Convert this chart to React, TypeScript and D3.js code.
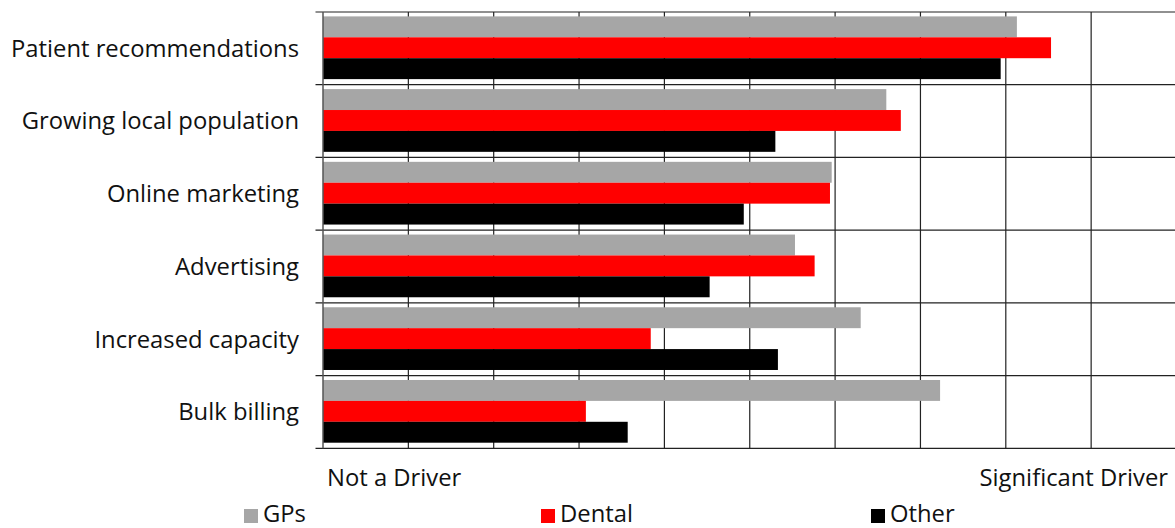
import React from "react";
import * as d3 from "d3";

const categories = [
  "Patient recommendations",
  "Growing local population",
  "Online marketing",
  "Advertising",
  "Increased capacity",
  "Bulk billing",
];
const seriesNames = ["GPs", "Dental", "Other"];
const seriesColors = ["#a6a6a6", "#ff0000", "#000000"];
const gpsValues = [8.13, 6.6, 5.96, 5.53, 6.3, 7.23];
const dentalValues = [8.53, 6.77, 5.94, 5.76, 3.84, 3.08];
const otherValues = [7.94, 5.3, 4.93, 4.53, 5.33, 3.57];
const xTicks = [0, 1, 2, 3, 4, 5, 6, 7, 8, 9, 10];
const axisLabels = ["Not a Driver", "Significant Driver"];

const W = 1175;
const H = 528;
const FONT = "'Open Sans', 'Noto Sans', sans-serif";
const FS = 23.8;

export default function App() {
  const x = d3.scaleLinear().domain([0, 10]).range([323, 1176.5]);
  const y = d3.scaleBand<string>().domain(categories).range([12, 448.3]).padding(0);
  const bw = y.bandwidth();
  const inner = d3.scaleBand<string>().domain(seriesNames).range([4.4, bw - 5.6]).padding(0);
  const values = [gpsValues, dentalValues, otherValues];
  const boundaries = d3.range(categories.length + 1).map((i) => 12 + i * bw);
  const legendX = [244, 541, 871];

  return (
    <svg width={W} height={H} style={{ position: "absolute", left: 0, top: 0, background: "#fff" }}>
      {xTicks.slice(1).map((t) => (
        <line key={"g" + t} x1={x(t)} x2={x(t)} y1={12} y2={448.3} stroke="#222" strokeWidth={1.2} />
      ))}
      {boundaries.map((b, i) => (
        <line key={"h" + i} x1={315.5} x2={W} y1={b} y2={b} stroke="#222" strokeWidth={1.2} />
      ))}
      {categories.map((c, ci) =>
        seriesNames.map((s, si) => (
          <rect
            key={c + s}
            x={x(0)}
            y={(y(c) as number) + (inner(s) as number)}
            width={x(values[si][ci]) - x(0)}
            height={inner.bandwidth()}
            fill={seriesColors[si]}
          />
        ))
      )}
      <line x1={x(0)} x2={x(0)} y1={12} y2={448.3} stroke="#555" strokeWidth={1.5} />
      {categories.map((c) => (
        <text
          key={"l" + c}
          x={299}
          y={(y(c) as number) + bw / 2}
          dy="0.35em"
          textAnchor="end"
          fontFamily={FONT}
          fontSize={FS}
          fill="#111"
        >
          {c}
        </text>
      ))}
      <text x={327} y={486} fontFamily={FONT} fontSize={FS} fill="#111">
        {axisLabels[0]}
      </text>
      <text x={1168} y={486} textAnchor="end" fontFamily={FONT} fontSize={FS} fill="#111">
        {axisLabels[1]}
      </text>
      {seriesNames.map((s, i) => (
        <g key={"lg" + s}>
          <rect x={legendX[i]} y={509} width={14} height={14} fill={seriesColors[i]} />
          <text x={legendX[i] + 19} y={522} fontFamily={FONT} fontSize={FS} fill="#111">
            {s}
          </text>
        </g>
      ))}
    </svg>
  );
}
